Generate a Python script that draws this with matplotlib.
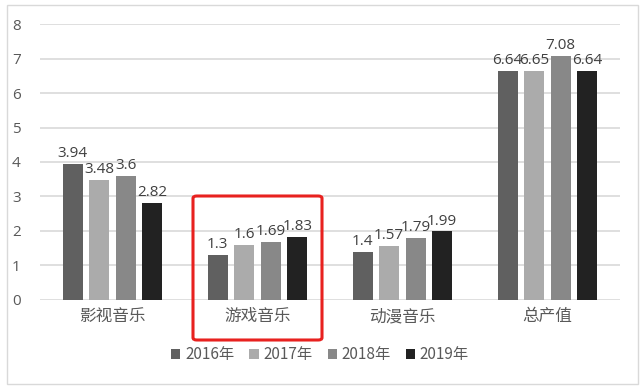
import matplotlib
matplotlib.use("Agg")
import matplotlib.pyplot as plt
from matplotlib.patches import FancyBboxPatch, Rectangle
import numpy as np

plt.rcParams['font.family'] = ['Noto Sans CJK SC', 'DejaVu Sans']

categories = ['影视音乐', '游戏音乐', '动漫音乐', '总产值']
series_names = ['2016年', '2017年', '2018年', '2019年']
v2016 = [3.94, 1.3, 1.4, 6.64]
v2017 = [3.48, 1.6, 1.57, 6.65]
v2018 = [3.6, 1.69, 1.79, 7.08]
v2019 = [2.82, 1.83, 1.99, 6.64]
labels2016 = ['3.94', '1.3', '1.4', '6.64']
labels2017 = ['3.48', '1.6', '1.57', '6.65']
labels2018 = ['3.6', '1.69', '1.79', '7.08']
labels2019 = ['2.82', '1.83', '1.99', '6.64']
colors = ['#606060', '#ababab', '#888888', '#222222']

fig = plt.figure(figsize=(6.4, 3.88), dpi=100)
ax = fig.add_axes([0.0625, 0.227, 0.906, 0.711])

x = np.arange(len(categories))
step = 0.183
width = 0.138
series = [v2016, v2017, v2018, v2019]
lbls = [labels2016, labels2017, labels2018, labels2019]
for i, (vals, lb, c, name) in enumerate(zip(series, lbls, colors, series_names)):
    pos = x + (i - 1.5) * step
    ax.bar(pos, vals, width=width, color=c, label=name, zorder=3)
    for p, v, t in zip(pos, vals, lb):
        ax.text(p, v + 0.08, t, ha='center', va='bottom', fontsize=11,
                color='#404040', family=['Open Sans', 'DejaVu Sans'], zorder=4)

ax.set_xlim(-0.5, 3.5)
ax.set_ylim(0, 8)
ax.set_yticks(range(0, 9))
ax.yaxis.grid(True, color='#d9d9d9', linewidth=1.2, zorder=0)
for s in ax.spines.values():
    s.set_visible(False)
ax.tick_params(axis='both', length=0, colors='#595959', labelsize=11)
ax.tick_params(axis='y', pad=14)
ax.tick_params(axis='x', pad=6)
ax.set_xticks(x)
ax.set_xticklabels(categories, fontsize=12)
for t in ax.get_yticklabels():
    t.set_family(['Open Sans', 'DejaVu Sans'])

# red highlight box
box = FancyBboxPatch((193/640, 1 - 340/388), (322 - 193)/640, (340 - 196)/388,
                     boxstyle='round,pad=0,rounding_size=0.006', transform=fig.transFigure,
                     fill=False, edgecolor='#e8211f', linewidth=2.2, zorder=10)
fig.patches.append(box)

# outer border
border = Rectangle((7/640, 1 - 384/388), (638 - 7)/640, (384 - 5)/388,
                   transform=fig.transFigure, fill=False, edgecolor='#d9d9d9', linewidth=1)
fig.patches.append(border)

leg = fig.legend(loc='center', bbox_to_anchor=(0.5, 1 - 355/388), ncol=4, frameon=False,
                 fontsize=11, handlelength=0.6, handleheight=0.6, handletextpad=0.3,
                 columnspacing=1.0, labelcolor='#595959')

fig.savefig('out.png', dpi=100)
